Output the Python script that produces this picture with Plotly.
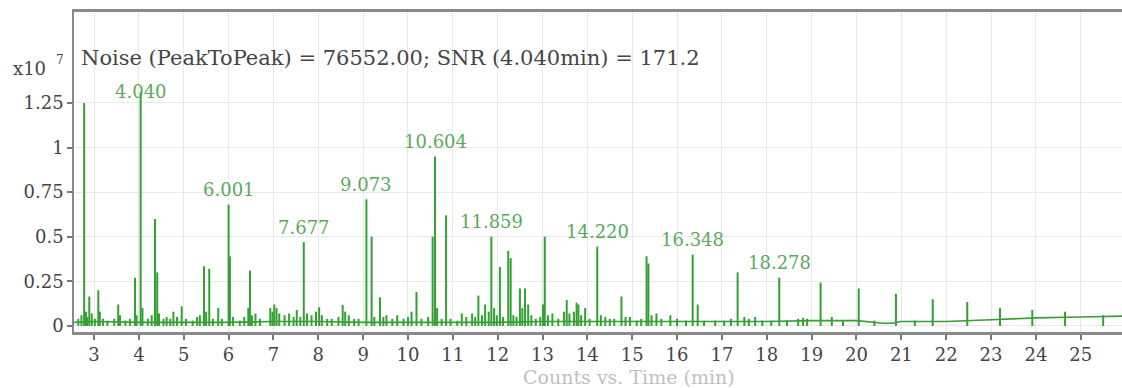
import plotly.graph_objects as go

# ---- data (x: retention time in min, y: counts x1e7) ----
peak_rt = [2.65, 2.72, 2.78, 2.82, 2.85, 2.895, 2.95, 3.02, 3.096, 3.13, 3.2, 3.3, 3.45, 3.54, 3.58,
           3.7, 3.8, 3.914, 3.95, 4.040, 4.08, 4.2, 4.286, 4.36, 4.41, 4.45, 4.55, 4.62, 4.70, 4.77,
           4.85, 4.955, 5.05, 5.2, 5.30, 5.36, 5.452, 5.50, 5.57, 5.65, 5.77, 5.85, 6.001, 6.03, 6.1,
           6.25, 6.35, 6.44, 6.477, 6.52, 6.6, 6.7, 6.93, 6.98, 7.02, 7.07, 7.13, 7.25, 7.35, 7.45,
           7.52, 7.60, 7.677, 7.75, 7.85, 7.95, 8.02, 8.08, 8.2, 8.3, 8.45, 8.544, 8.6, 8.68, 8.8,
           8.9, 9.073, 9.19, 9.25, 9.375, 9.45, 9.52, 9.65, 9.76, 9.9, 10.0, 10.08, 10.19, 10.3, 10.45,
           10.55, 10.604, 10.65, 10.75, 10.85, 10.95, 11.1, 11.2, 11.3, 11.43, 11.5, 11.57, 11.65, 11.72,
           11.80, 11.859, 11.92, 11.98, 12.05, 12.12, 12.236, 12.29, 12.35, 12.42, 12.496, 12.55, 12.61,
           12.68, 12.75, 12.85, 12.95, 13.01, 13.05, 13.12, 13.22, 13.35, 13.48, 13.54, 13.6, 13.7,
           13.76, 13.8, 13.86, 13.95, 14.05, 14.220, 14.3, 14.4, 14.5, 14.6, 14.76, 14.85, 14.95, 15.1,
           15.2, 15.32, 15.36, 15.43, 15.54, 15.65, 15.85, 16.0, 16.2, 16.348, 16.46, 16.6, 16.85, 17.05,
           17.2, 17.35, 17.5, 17.6, 17.74, 17.9, 18.1, 18.278, 18.45, 18.7, 18.81, 18.9, 19.2, 19.45,
           19.7, 20.05, 20.4, 20.88, 21.3, 21.70, 22.47, 23.2, 23.92, 24.65, 25.5]
peak_h = [0.04, 0.06, 1.25, 0.08, 0.05, 0.165, 0.07, 0.04, 0.20, 0.08, 0.04, 0.03, 0.04, 0.12, 0.06,
          0.03, 0.04, 0.27, 0.06, 1.31, 0.10, 0.04, 0.06, 0.60, 0.30, 0.07, 0.04, 0.05, 0.04, 0.08,
          0.05, 0.11, 0.04, 0.03, 0.05, 0.06, 0.335, 0.08, 0.32, 0.04, 0.10, 0.04, 0.68, 0.39, 0.05,
          0.03, 0.05, 0.10, 0.31, 0.06, 0.07, 0.04, 0.10, 0.08, 0.12, 0.10, 0.07, 0.06, 0.07, 0.05,
          0.09, 0.05, 0.47, 0.07, 0.06, 0.08, 0.105, 0.06, 0.04, 0.04, 0.05, 0.118, 0.08, 0.06, 0.04,
          0.04, 0.71, 0.50, 0.05, 0.16, 0.05, 0.06, 0.04, 0.06, 0.04, 0.05, 0.08, 0.19, 0.04, 0.05,
          0.50, 0.95, 0.10, 0.04, 0.62, 0.04, 0.03, 0.07, 0.05, 0.07, 0.05, 0.17, 0.06, 0.12,
          0.08, 0.50, 0.10, 0.06, 0.33, 0.05, 0.42, 0.38, 0.06, 0.05, 0.21, 0.10, 0.21,
          0.12, 0.06, 0.04, 0.05, 0.12, 0.50, 0.06, 0.07, 0.04, 0.08, 0.145, 0.07, 0.08,
          0.13, 0.12, 0.06, 0.10, 0.04, 0.445, 0.06, 0.05, 0.04, 0.04, 0.165, 0.05, 0.05, 0.03,
          0.04, 0.39, 0.35, 0.06, 0.07, 0.04, 0.06, 0.04, 0.03, 0.40, 0.12, 0.03, 0.03, 0.03,
          0.04, 0.30, 0.05, 0.04, 0.05, 0.03, 0.03, 0.27, 0.03, 0.04, 0.045, 0.04, 0.243, 0.05,
          0.03, 0.21, 0.03, 0.18, 0.03, 0.15, 0.135, 0.10, 0.09, 0.08, 0.06]

base_rt = [2.56, 3.0, 4.0, 5.0, 6.0, 7.0, 8.0, 9.0, 10.0, 11.0, 12.0, 13.0, 14.0, 15.0, 16.0, 17.0,
           18.0, 19.0, 20.0, 20.6, 20.8, 21.0, 22.0, 23.0, 24.0, 25.0, 25.92]
base_level = [0.02, 0.025, 0.02, 0.02, 0.02, 0.025, 0.025, 0.02, 0.02, 0.02, 0.02, 0.025, 0.025, 0.025,
              0.025, 0.025, 0.025, 0.03, 0.03, 0.015, 0.015, 0.025, 0.025, 0.035, 0.045, 0.05, 0.055]

label_rt = [4.040, 6.001, 7.677, 9.073, 10.604, 11.859, 14.220, 16.348, 18.278]

y_tickvals = [0, 0.25, 0.5, 0.75, 1, 1.25]
y_ticktext = ["0", "0.25", "0.5", "0.75", "1", "1.25"]
x_tickvals = list(range(3, 26))

noise_text = "Noise (PeakToPeak) = 76552.00; SNR (4.040min) = 171.2"
x_title = "Counts vs. Time (min)"

# ---- figure ----
GREEN = "#33a033"
FONT = "DejaVu Serif"
TXT = "#454545"

stem_x, stem_y = [], []
for t, h in zip(peak_rt, peak_h):
    stem_x += [t, t, None]
    stem_y += [0, h, None]

fig = go.Figure()
fig.add_trace(go.Scatter(x=stem_x, y=stem_y, mode="lines",
                         line=dict(color=GREEN, width=2), hoverinfo="skip", showlegend=False))
fig.add_trace(go.Scatter(x=base_rt, y=base_level, mode="lines",
                         line=dict(color=GREEN, width=1.6), hoverinfo="skip", showlegend=False))

W, H = 1122, 388
ml, mr, mt, mb = 74, 0, 12, 56
pw, ph = W - ml - mr, H - mt - mb

annotations = []
for t in label_rt:
    h = peak_h[peak_rt.index(t)]
    annotations.append(dict(x=t, y=h, xref="x", yref="y", text=f"{t:.3f}", showarrow=False,
                            xanchor="center", yanchor="middle", yshift=1 if t == 4.040 else 15,
                            font=dict(family=FONT, size=18, color="#5aaa5a")))
annotations.append(dict(x=(79 - ml) / pw, y=(H - mb - 58) / ph, xref="paper", yref="paper",
                        text=noise_text, showarrow=False, xanchor="left", yanchor="middle",
                        font=dict(family=FONT, size=21, color=TXT)))
annotations.append(dict(x=(48 - ml) / pw, y=(H - mb - 68) / ph, xref="paper", yref="paper",
                        text="x10", showarrow=False, xanchor="right", yanchor="middle",
                        font=dict(family=FONT, size=18, color=TXT)))
annotations.append(dict(x=(60 - ml) / pw, y=(H - mb - 60) / ph, xref="paper", yref="paper",
                        text="7", showarrow=False, xanchor="center", yanchor="middle",
                        font=dict(family=FONT, size=12, color=TXT)))
annotations.append(dict(x=(629 - ml) / pw, y=(H - mb - 377) / ph, xref="paper", yref="paper",
                        text=x_title, showarrow=False, xanchor="center", yanchor="middle",
                        font=dict(family=FONT, size=19, color="#c0c0c0")))

fig.update_layout(
    width=W, height=H, autosize=False,
    margin=dict(l=ml, r=mr, t=mt, b=mb, pad=0),
    paper_bgcolor="white", plot_bgcolor="white",
    annotations=annotations,
    shapes=[dict(type="rect", xref="paper", yref="y", x0=0, x1=1, y0=1.40, y1=1.76,
                 fillcolor="white", line=dict(width=0), layer="between")],
    xaxis=dict(range=[2.554, 25.92], tickvals=x_tickvals, ticks="outside", ticklen=5,
               tickwidth=1.5, tickcolor="#777777", showline=True, linecolor="#8a8a8a",
               linewidth=2.5, mirror=True, showgrid=True, gridcolor="#e9e9e9", gridwidth=1,
               zeroline=False, tickfont=dict(family=FONT, size=18, color=TXT)),
    yaxis=dict(range=[-0.034, 1.76], tickvals=y_tickvals, ticktext=y_ticktext, ticks="outside",
               ticklen=5, tickwidth=1.5, tickcolor="#777777", showline=True, linecolor="#888888",
               linewidth=1.5, showgrid=True, gridcolor="#e9e9e9", gridwidth=1, zeroline=False,
               tickfont=dict(family=FONT, size=18, color=TXT)),
)

fig.write_html("out.html", config={"displayModeBar": False},
               post_script="document.body.style.margin='0';")
